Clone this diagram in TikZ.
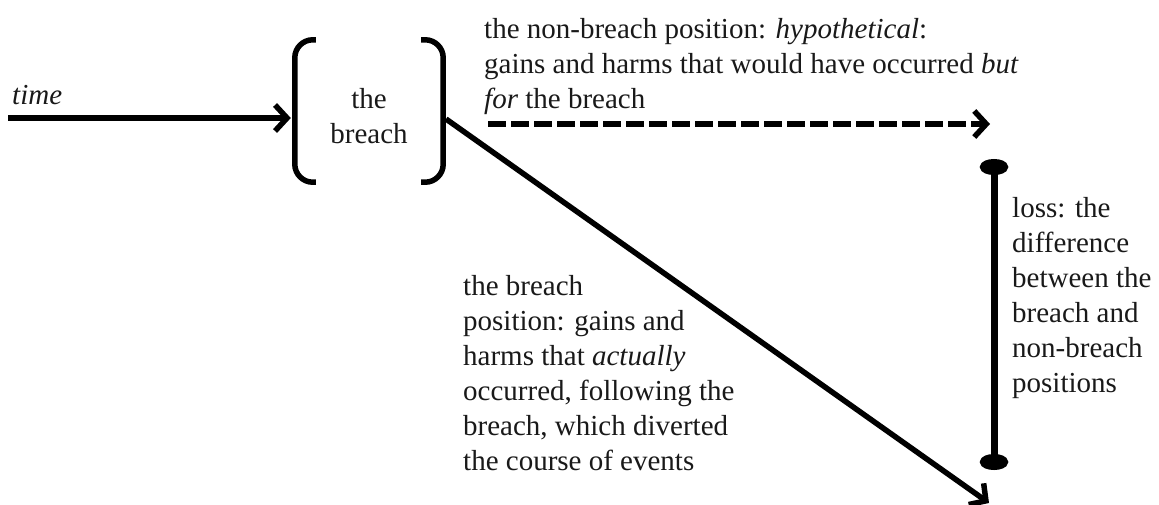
\documentclass[tikz,border=0pt]{standalone}
\usepackage{fontspec}
\setmainfont{Liberation Serif}
\usetikzlibrary{arrows.meta}
\newcommand\blkl[1]{\begin{tabular}[t]{@{}l@{}}#1\end{tabular}}
\newcommand\blkc[1]{\begin{tabular}[t]{@{}c@{}}#1\end{tabular}}
\begin{document}
\begin{tikzpicture}[x=1pt,y=-1pt,
  txt/.style={font=\fontsize{29}{35}\selectfont, inner sep=0pt, anchor=base west, text=black!90},
  arrowline/.style={line width=6pt, -{Straight Barb[length=12pt,width=26pt,line width=5.5pt]}},
  bracket/.style={line width=5.5pt, rounded corners=18pt},
  dashline/.style={line width=6.5pt, dash pattern=on 18pt off 5pt, -{Straight Barb[length=12pt,width=26pt,line width=5.5pt]}},
  lossbar/.style={line width=7pt, {Ellipse[length=16pt,width=28pt]}-{Ellipse[length=16pt,width=28pt]}}]
\useasboundingbox (0,0) rectangle (1159,504);
% the breach node
\node[minimum width=148pt, minimum height=142pt, inner sep=0pt] (breach) at (369,111) {};
\node[txt, anchor=base] (breachtxt) at (369,108) {\blkc{the\\breach}};
\draw[bracket] ([xshift=21pt]breach.north west) -- (breach.north west) -- (breach.south west) -- ([xshift=21pt]breach.south west);
\draw[bracket] ([xshift=-22pt]breach.north east) -- (breach.north east) -- (breach.south east) -- ([xshift=-22pt]breach.south east);
% time arrow
\coordinate (tstart) at (8,118);
\node[txt] (time) at (12,104) {\textit{time}};
\draw[arrowline, shorten >=4pt] (tstart) -- (tstart -| breach.west);
% non-breach (dashed)
\coordinate (nbstart) at (488,124);
\coordinate (nbend) at (990,124);
\draw[dashline] (nbstart) -- (nbend);
\node[txt] (nbtxt) at (484,38) {\blkl{the non-breach position: \textit{hypothetical}:\\gains and harms that would have occurred \textit{but}\\\textit{for} the breach}};
% breach (diagonal)
\coordinate (dstart) at (446,119);
\coordinate (dend) at (989,503);
\draw[arrowline, line width=5.5pt] (dstart) -- (dend);
\node[txt] (btxt) at (463,295) {\blkl{the breach\\position: gains and\\harms that \textit{actually}\\occurred, following the\\breach, which diverted\\the course of events}};
% loss
\coordinate (ltop) at (994,159);
\coordinate (lbot) at (994,470);
\draw[lossbar] (ltop) -- (lbot);
\node[txt] (losstxt) at (1012,217) {\blkl{loss: the\\difference\\between the\\breach and\\non-breach\\positions}};
\end{tikzpicture}
\end{document}
